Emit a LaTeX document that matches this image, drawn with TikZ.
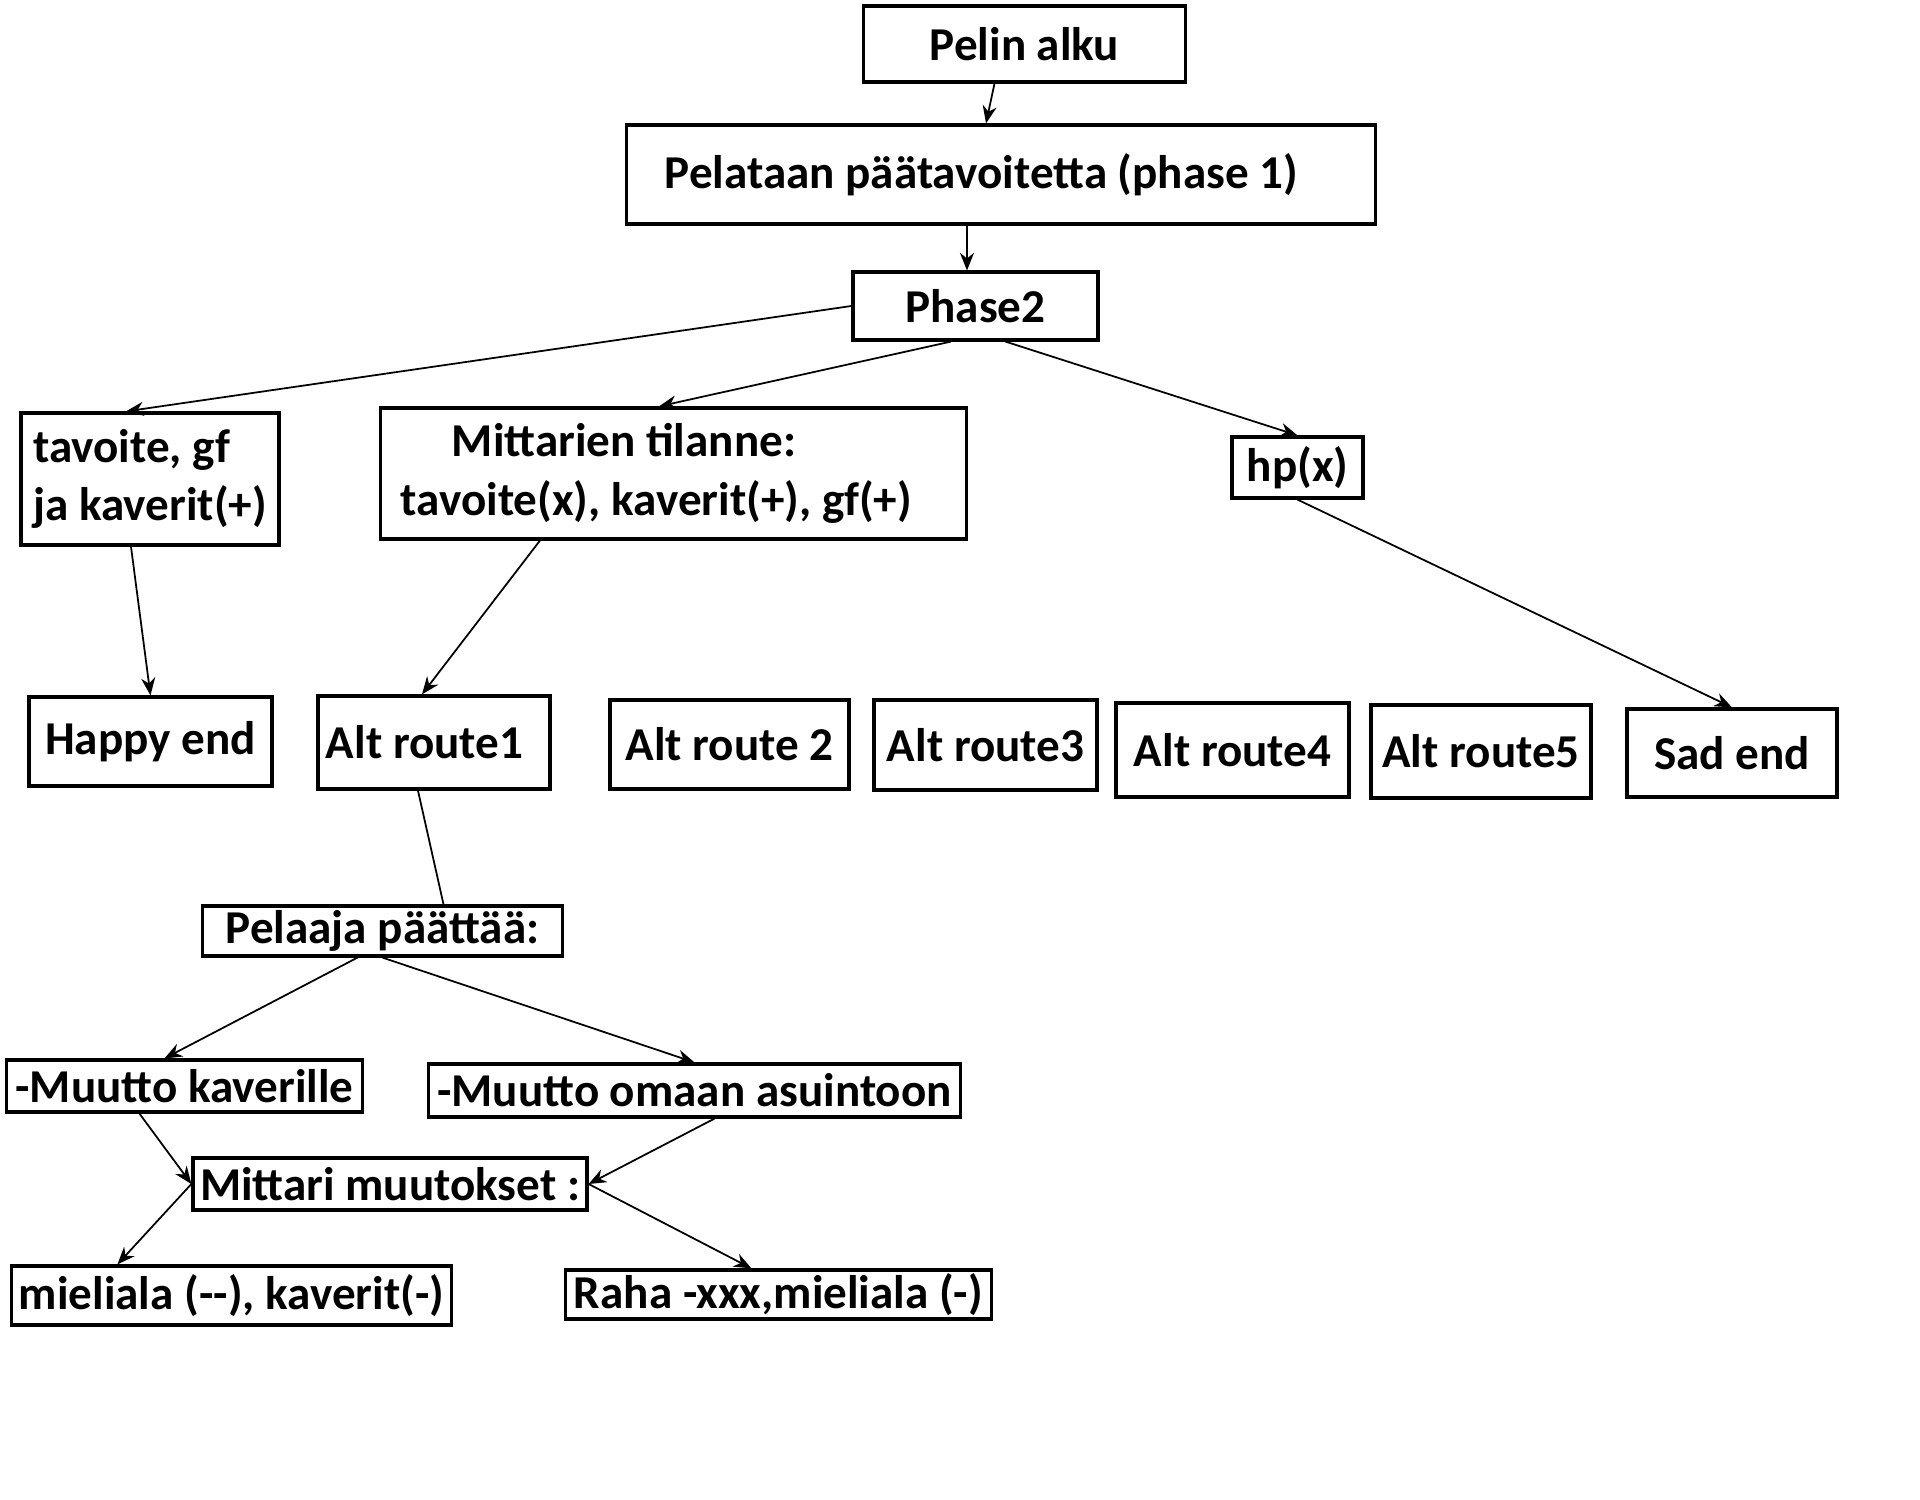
\documentclass[tikz,border=0pt]{standalone}
\usepackage{fontspec}
\setmainfont{Carlito}
\usetikzlibrary{arrows.meta}

\begin{document}
\begin{tikzpicture}
  [x=0.01cm,y=-0.01cm,>={Stealth[length=5pt,width=4pt]},
   every node/.style={draw, line width=0.9pt, inner xsep=2pt, inner ysep=0pt,
     font=\bfseries\fontsize{13.4}{16.7}\selectfont}]
  \useasboundingbox (0,0) rectangle (1920,1500);

  \node[minimum width=3.21cm, minimum height=0.76cm] (alku) at (1024.5,44) {Pelin alku};
  \node[minimum width=7.48cm, minimum height=0.99cm, inner xsep=0.38cm, text width=6.72cm, align=flush left] (ph1) at (1001,174.5) {Pelataan päätavoitetta (phase 1)};
  \node[minimum width=2.45cm, minimum height=0.68cm] (ph2) at (975.5,306) {Phase2};

   \node[minimum width=2.58cm, minimum height=1.32cm, align=left] (tav) at (150,479) {tavoite, gf\\ja kaverit(+)};
   \node[minimum width=5.85cm, minimum height=1.31cm, inner xsep=0.2cm, text width=5.45cm, align=flush left] (mit) at (673.5,473.5) {\hspace*{0.51cm}Mittarien tilanne:\\tavoite(x), kaverit(+), gf(+)};
   \node[minimum width=1.31cm, minimum height=0.61cm] (hp) at (1297.5,467.5) {hp(x)};

  \node[minimum width=2.43cm, minimum height=0.89cm] (happy) at (150.5,741.5) {Happy end};
  \node[minimum width=2.32cm, minimum height=0.93cm, inner xsep=0.08cm, text width=2.16cm, align=flush left] (alt1) at (434,742.5) {Alt route1};
  \node[minimum width=2.39cm, minimum height=0.89cm] (alt2) at (729.5,744.5) {Alt route 2};
  \node[minimum width=2.23cm, minimum height=0.90cm] (alt3) at (985.5,745) {Alt route3};
  \node[minimum width=2.33cm, minimum height=0.94cm] (alt4) at (1232.5,750) {Alt route4};
  \node[minimum width=2.20cm, minimum height=0.93cm] (alt5) at (1481,751.5) {Alt route5};
  \node[minimum width=2.10cm, minimum height=0.88cm] (sad) at (1732,753) {Sad end};

   \node[minimum width=3.59cm, minimum height=0.50cm] (pel) at (382.5,931) {Pelaaja päättää:};
   \node[minimum width=3.55cm, minimum height=0.52cm] (kav) at (184.5,1086) {-Muutto kaverille};
   \node[minimum width=5.31cm, minimum height=0.53cm] (oma) at (694.5,1090.5) {-Muutto omaan asuintoon};
   \node[minimum width=3.88cm, minimum height=0.52cm] (mm) at (390,1184) {Mittari muutokset :};
   \node[minimum width=4.39cm, minimum height=0.59cm] (mie) at (231.5,1295.5) {mieliala (-{}-), kaverit(-)};
   \node[minimum width=4.25cm, minimum height=0.49cm] (raha) at (778.5,1294.5) {Raha -xxx,mieliala (-)};

  \foreach \from/\a/\to/\b in {alku.south/-0.30/ph1.north/-0.15,
  ph1.south/-0.34/ph2.north/-0.085, ph2.west/0/tav.north/-0.24,
  ph2.south/-0.245/mit.north/-0.145, ph2.south/0.30/hp.north/0,
  tav.south/-0.19/happy.north/0, mit.south/-1.335/alt1.north/-0.12,
  hp.south/0/sad.north/0,
  pel.south/-0.25/kav.north/-0.2, pel.south/0/oma.north/0,
  kav.south/-0.45/mm.west/0, oma.south/0.2/mm.east/0,
  mm.west/0/mie.north/-1.14, mm.east/0/raha.north/-0.27}
      \draw[->, line width=0.5pt] ([xshift=\a cm]\from) -- ([xshift=\b cm]\to);
  \draw[line width=0.5pt] ([xshift=-0.16cm]alt1.south) -- ([xshift=0.61cm]pel.north);
\end{tikzpicture}
\end{document}
